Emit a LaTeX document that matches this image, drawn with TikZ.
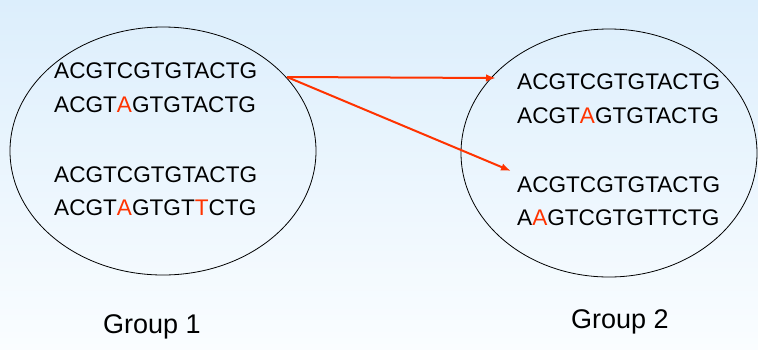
\documentclass[tikz,border=0pt]{standalone}
\usepackage{fontspec}
\setmainfont{Liberation Sans}
\usetikzlibrary{arrows.meta}
\definecolor{hl}{HTML}{FF3300}
\begin{document}
\begin{tikzpicture}[x=1pt,y=-1pt,
  seq/.style={inner sep=0pt,font=\fontsize{22.6}{24}\selectfont,anchor=west},
  grp/.style={inner sep=0pt,font=\fontsize{27}{30}\selectfont},
  blob/.style={draw=black,line width=0.8pt},
  link/.style={draw=hl,line width=2pt,-{Latex[length=10pt,width=7.5pt]}}]
\shade[top color={rgb,255:red,220;green,238;blue,252},bottom color={rgb,255:red,250;green,253;blue,255}] (0,0) rectangle (758,349);
\useasboundingbox (0,0) rectangle (758,349);
\draw[blob] (163,151) ellipse [x radius=153,y radius=124];
\draw[blob] (609,153) ellipse [x radius=148,y radius=124];
\node[seq] (l1) at (54,71) {ACGTCGTGTACTG};
\node[seq] (l2) at (54,105) {ACGT{\color{hl}A}GTGTACTG};
\node[seq] (l3) at (54,175) {ACGTCGTGTACTG};
\node[seq] (l4) at (54,208) {ACGT{\color{hl}A}GTGT{\color{hl}T}CTG};
\node[seq] (r1) at (517,82) {ACGTCGTGTACTG};
\node[seq] (r2) at (517,116) {ACGT{\color{hl}A}GTGTACTG};
\node[seq] (r3) at (517,185) {ACGTCGTGTACTG};
\node[seq] (r4) at (517,218) {A{\color{hl}A}GTCGTGTTCTG};
\node[grp] (g1) at (152,327) {Group 1};
\node[grp] (g2) at (620,322) {Group 2};
\coordinate (s) at (287,77);
\coordinate (e1) at (496,78);
\coordinate (e2) at (511,171);
\draw[link] (s) -- (e1);
\draw[link] (s) -- (e2);
\end{tikzpicture}
\end{document}
